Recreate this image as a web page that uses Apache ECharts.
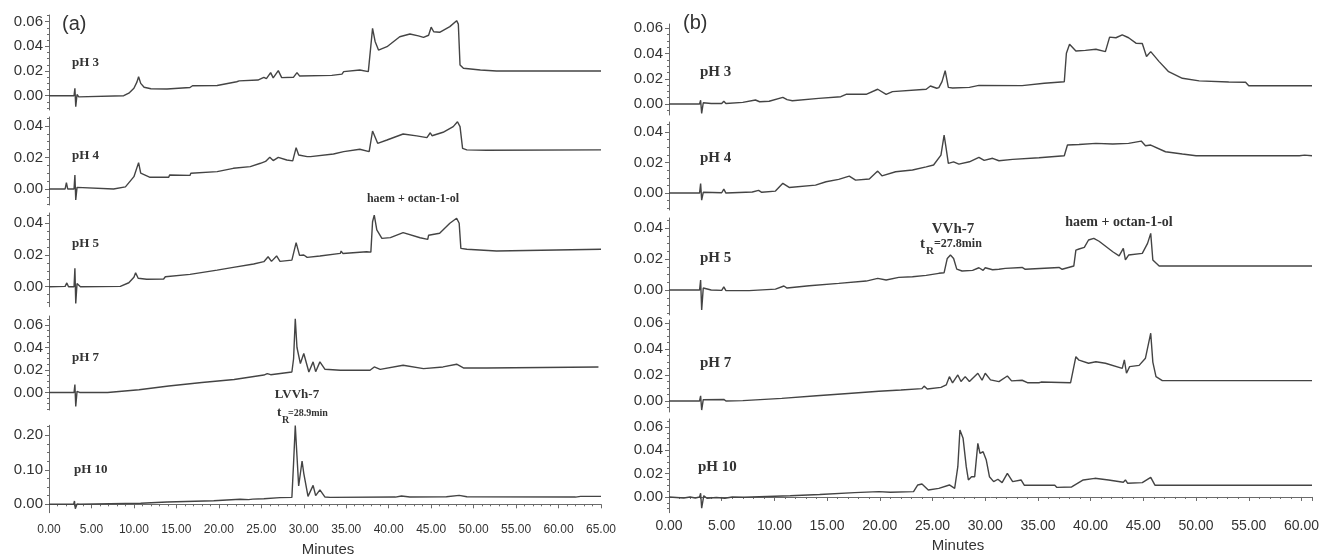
<!DOCTYPE html>
<html><head><meta charset="utf-8">
<script src="https://cdn.jsdelivr.net/npm/echarts@6/dist/echarts.min.js"></script>
<style>html,body{margin:0;padding:0;background:#fff}#c{width:1324px;height:556px}</style>
</head><body><div id="c"></div>
<script>
// ---------- DATA (minutes, absorbance) ----------
const aPH3 = [[0,0],[1.7,0],[1.9,0.0008],[2.1,0],[2.95,0],[3.05,0.006],[3.15,-0.009],[3.3,0.001],[3.5,-0.001],[3.7,0],[8.8,0],[9.4,0.002],[10.0,0.006],[10.35,0.011],[10.55,0.0154],[10.8,0.01],[11.2,0.0068],[12.0,0.0056],[13.9,0.0054],[14.1,0.0064],[16.6,0.0066],[16.9,0.0081],[19.8,0.0083],[20.0,0.0095],[22.1,0.0113],[22.4,0.012],[24.6,0.0127],[25.3,0.0149],[25.6,0.0138],[26.1,0.0187],[26.4,0.0144],[27.0,0.0203],[27.4,0.0146],[28.8,0.015],[29.2,0.0187],[29.5,0.016],[33.3,0.0165],[34.5,0.0175],[34.7,0.0195],[36.6,0.0208],[37.6,0.0195],[37.8,0.021],[38.1,0.0546],[38.4,0.044],[38.8,0.037],[39.8,0.0397],[41.3,0.0478],[42.5,0.050],[43.5,0.0485],[44.1,0.0473],[44.7,0.049],[45.0,0.0555],[45.3,0.0518],[46.0,0.0514],[47.2,0.056],[48.0,0.0608],[48.2,0.058],[48.4,0.0249],[48.8,0.0222],[50.8,0.0208],[52.7,0.02],[65,0.02]];
const aPH4 = [[0,0],[1.9,0],[2.05,0.004],[2.2,0],[2.95,0],[3.05,0.0089],[3.15,-0.007],[3.3,0.001],[3.5,0],[7.6,0],[9.0,0.0013],[10.0,0.0078],[10.55,0.0167],[10.8,0.01],[11.9,0.0074],[14.1,0.0074],[14.2,0.0089],[16.6,0.0086],[16.7,0.01],[19.8,0.011],[21.7,0.0131],[23.7,0.0142],[24.9,0.0163],[25.5,0.0175],[26.0,0.0201],[26.4,0.018],[27.0,0.0201],[28.0,0.0184],[28.7,0.0178],[29.1,0.0262],[29.4,0.0216],[30.4,0.0205],[30.8,0.0205],[33.5,0.0222],[34.7,0.0237],[36.6,0.0252],[37.7,0.0237],[38.1,0.0368],[38.7,0.029],[39.8,0.0311],[41.7,0.0349],[43.3,0.0337],[44.5,0.0326],[44.9,0.0357],[45.1,0.0338],[46.4,0.036],[47.6,0.0396],[48.1,0.0427],[48.4,0.0396],[48.7,0.0258],[49.2,0.0248],[51.5,0.0246],[65,0.0248]];
const aPH5 = [[0,0],[1.9,0.0002],[2.1,0.0024],[2.3,0],[2.95,0],[3.05,0.0116],[3.15,-0.0105],[3.3,0.002],[3.7,0],[8.4,0.0002],[9.4,0.0025],[10.0,0.006],[10.2,0.0088],[10.5,0.0053],[11.5,0.0047],[13.5,0.0049],[13.7,0.0063],[16.6,0.0078],[19.8,0.0105],[21.7,0.0122],[24.1,0.0143],[25.3,0.0158],[25.8,0.0189],[26.2,0.016],[26.8,0.0194],[27.2,0.016],[28.6,0.0168],[29.1,0.0278],[29.5,0.0198],[30.0,0.02],[30.4,0.0185],[31.9,0.0194],[34.3,0.021],[34.4,0.0225],[34.6,0.021],[37.4,0.0221],[37.9,0.0218],[38.1,0.041],[38.3,0.0452],[38.6,0.0358],[39.2,0.0305],[40.2,0.031],[41.7,0.0341],[43.7,0.0309],[44.6,0.0299],[44.7,0.0325],[46.0,0.0337],[47.2,0.04],[48.0,0.0432],[48.3,0.04],[48.5,0.0242],[49.2,0.0236],[52.7,0.0225],[65,0.0236]];
const aPH7 = [[0,0],[2.95,0],[3.05,0.0071],[3.15,-0.0125],[3.3,0.001],[3.6,0],[6.9,0],[10.6,0.0024],[14.1,0.0058],[18.0,0.0088],[21.8,0.0115],[25.3,0.0155],[25.7,0.0168],[26.1,0.0158],[28.6,0.0182],[28.8,0.03],[29.0,0.0655],[29.2,0.04],[29.6,0.0257],[30.0,0.0347],[30.6,0.0182],[31.1,0.0272],[31.4,0.0185],[31.9,0.0272],[32.5,0.0206],[34.3,0.0197],[37.8,0.0197],[38.3,0.0227],[39.0,0.0205],[41.7,0.0242],[44.1,0.0212],[46.4,0.0227],[48.0,0.0251],[48.8,0.0218],[51.5,0.0217],[64.7,0.0227]];
const aPH10 = [[0,0],[2.9,0],[3.0,0.0096],[3.1,-0.0128],[3.3,0.001],[3.6,0],[10.8,0.003],[13.9,0.0067],[19.4,0.0104],[22.5,0.0145],[23.5,0.0135],[23.7,0.018],[24.0,0.015],[25.3,0.0162],[27.2,0.0193],[28.6,0.02],[28.8,0.12],[29.0,0.228],[29.2,0.14],[29.4,0.053],[29.8,0.1255],[30.0,0.09],[30.5,0.023],[31.1,0.055],[31.4,0.025],[31.9,0.042],[32.5,0.021],[33.1,0.02],[40.8,0.021],[41.5,0.024],[42.5,0.021],[46.8,0.022],[48.3,0.026],[49.2,0.022],[62.0,0.021],[62.6,0.023],[65,0.023]];

const bPH3 = [[0,0],[1.9,0],[2.06,0.0013],[2.2,0],[2.9,0],[3.0,0.003],[3.1,-0.0074],[3.25,0.001],[4.0,0.0004],[5.0,0.0004],[5.2,0.0022],[5.4,0.0004],[7.0,0.0013],[8.2,0.0032],[8.6,0.0018],[9.5,0.0022],[10.8,0.0053],[11.2,0.0035],[11.7,0.0026],[14.2,0.0045],[16.3,0.0058],[16.8,0.0077],[18.7,0.0077],[19.8,0.0117],[20.6,0.0077],[21.2,0.0098],[24.4,0.0117],[24.8,0.0143],[25.4,0.0125],[25.6,0.013],[25.9,0.0177],[26.2,0.0264],[26.5,0.0132],[26.9,0.0127],[28.5,0.0132],[29.4,0.0148],[33.5,0.0146],[35.6,0.0164],[37.5,0.0177],[37.7,0.0402],[38.0,0.0474],[38.6,0.042],[39.5,0.0425],[40.5,0.0434],[41.4,0.0415],[41.8,0.053],[42.4,0.0525],[43.0,0.0548],[43.6,0.0525],[44.3,0.0482],[44.9,0.048],[45.3,0.0376],[45.7,0.0415],[46.5,0.0336],[47.4,0.0256],[48.7,0.0204],[50.3,0.0183],[53.1,0.0175],[54.7,0.0172],[55.0,0.0145],[61,0.0145]];
const bPH4 = [[0,0],[1.9,0],[2.06,0.0013],[2.2,0],[2.9,0],[3.0,0.0062],[3.1,-0.0046],[3.25,0.0005],[5.0,0.0002],[5.2,0.0026],[5.4,0],[7.9,0.0007],[8.5,0.0018],[8.8,0.0005],[10.1,0.0013],[10.8,0.0064],[11.4,0.0037],[13.9,0.0052],[14.9,0.0074],[16.1,0.009],[17.1,0.0111],[17.7,0.0085],[19.0,0.0092],[19.8,0.0144],[20.2,0.0113],[21.5,0.014],[23.1,0.0151],[24.4,0.0172],[25.1,0.0184],[25.8,0.0249],[26.1,0.038],[26.3,0.029],[26.5,0.0195],[27.0,0.0205],[27.5,0.019],[28.5,0.0205],[29.4,0.0234],[29.9,0.0214],[30.7,0.0228],[31.3,0.0212],[32.6,0.0221],[35.1,0.0232],[37.5,0.0245],[37.8,0.0315],[38.9,0.0318],[40.5,0.0326],[42.1,0.0322],[43.6,0.0326],[44.8,0.0341],[45.2,0.031],[45.7,0.0315],[47.1,0.0271],[48.7,0.0256],[50.0,0.0245],[59.8,0.0245],[60.3,0.0249],[61,0.0245]];
const bPH5 = [[0,0],[1.9,0],[2.06,0.0006],[2.2,0],[2.9,0],[3.0,0.0065],[3.1,-0.0129],[3.25,0.0013],[4.0,0],[5.0,-0.0002],[5.2,0.0021],[5.4,-0.0004],[7.6,-0.0004],[10.1,0.0006],[10.9,0.0026],[11.2,0.0013],[13.3,0.0028],[16.1,0.0043],[18.7,0.0058],[19.8,0.0075],[20.6,0.0065],[21.8,0.0082],[23.1,0.0086],[24.4,0.0095],[25.6,0.0108],[26.1,0.0112],[26.4,0.0204],[26.7,0.0226],[27.0,0.0204],[27.3,0.0135],[27.8,0.0123],[28.8,0.0127],[29.4,0.0144],[29.8,0.0127],[30.0,0.0144],[30.7,0.0131],[31.3,0.0134],[31.9,0.014],[32.0,0.0151],[33.5,0.0146],[33.8,0.0134],[37.0,0.0146],[37.3,0.0134],[38.4,0.0155],[38.6,0.0258],[38.9,0.0265],[39.4,0.0275],[39.8,0.0323],[40.3,0.0334],[40.8,0.0315],[42.1,0.0247],[42.7,0.0221],[43.1,0.0269],[43.3,0.0194],[43.6,0.0226],[44.9,0.0237],[45.4,0.0301],[45.7,0.0366],[45.9,0.0194],[46.5,0.0155],[61,0.0155]];
const bPH7 = [[0,0],[1.9,0],[2.06,0.001],[2.2,0],[2.9,0],[3.0,0.004],[3.1,-0.007],[3.25,0.001],[5.2,0.0012],[5.4,0],[7.0,0.0003],[10.7,0.002],[14.0,0.004],[17.0,0.0058],[19.9,0.0075],[22.0,0.0085],[24.0,0.0095],[24.2,0.0115],[24.5,0.0092],[25.8,0.0105],[26.3,0.0124],[26.6,0.0188],[26.9,0.014],[27.4,0.0201],[27.7,0.015],[28.1,0.0188],[28.5,0.015],[29.3,0.0214],[29.7,0.016],[30.0,0.0214],[30.5,0.0163],[31.3,0.0149],[32.1,0.0193],[32.5,0.0155],[33.5,0.016],[34.0,0.0141],[35.1,0.0141],[35.3,0.0146],[38.1,0.0141],[38.6,0.0342],[38.9,0.0315],[39.8,0.0291],[40.5,0.0303],[41.4,0.0291],[43.0,0.0252],[43.2,0.0317],[43.4,0.0214],[43.7,0.0265],[44.6,0.0275],[45.2,0.033],[45.7,0.0523],[45.9,0.03],[46.2,0.0188],[46.8,0.0157],[61,0.0157]];
const bPH10 = [[0,0],[1.4,-0.0009],[2.0,0],[2.5,-0.0009],[2.9,0],[3.0,0.0032],[3.1,-0.0096],[3.3,0.0011],[3.6,-0.0011],[4.5,-0.0004],[5.3,-0.0011],[6.0,0],[7.1,-0.0002],[11.5,0.0011],[14.3,0.0021],[17.6,0.0037],[19.9,0.0046],[21.0,0.0041],[23.2,0.0046],[23.6,0.0103],[24.0,0.0111],[24.6,0.006],[25.6,0.0074],[26.6,0.0103],[27.1,0.0074],[27.4,0.026],[27.6,0.0574],[27.9,0.0503],[28.2,0.026],[28.4,0.0146],[28.7,0.0174],[29.0,0.0174],[29.3,0.046],[29.5,0.0375],[29.8,0.0388],[30.1,0.0317],[30.4,0.0174],[30.8,0.0132],[31.2,0.0152],[31.6,0.0123],[32.1,0.0203],[32.6,0.0132],[33.4,0.0146],[33.7,0.0101],[36.6,0.0101],[36.8,0.0082],[38.2,0.0086],[39.3,0.0146],[40.4,0.016],[41.7,0.0146],[43.1,0.0126],[43.3,0.0146],[43.5,0.0118],[44.9,0.0123],[45.7,0.0168],[46.1,0.0101],[61,0.0101]];

const phLabels = ['pH 3','pH 4','pH 5','pH 7','pH 10'];
const ticksA = [[0,0.02,0.04,0.06],[0,0.02,0.04],[0,0.02,0.04],[0,0.02,0.04,0.06],[0,0.1,0.2]];
const ticksB = [[0,0.02,0.04,0.06],[0,0.02,0.04],[0,0.02,0.04],[0,0.02,0.04,0.06],[0,0.02,0.04,0.06]];
const xMaxA = 65, xMaxB = 61;

// ---------- LAYOUT ----------
const layoutA = {left:49, width:552, rows:[
  {top:15, h:95, min:-0.0116, max:0.0654},
  {top:117, h:88, min:-0.0102, max:0.0457},
  {top:213, h:93.7, min:-0.0126, max:0.0465},
  {top:316, h:94, min:-0.0156, max:0.068},
  {top:425.3, h:87.4, min:-0.0243, max:0.229}
]};
const layoutB = {left:669, width:643, rows:[
  {top:24, h:91, min:-0.0087, max:0.0634},
  {top:122, h:88, min:-0.0111, max:0.0466},
  {top:218, h:97, min:-0.0161, max:0.0465},
  {top:320, h:92, min:-0.0085, max:0.0625},
  {top:419, h:93.7, min:-0.0135, max:0.0669}
]};

const AX = '#6a6a6a', TXT = '#333', LINE = '#444';
const grid = [], xAxis = [], yAxis = [], series = [];
function addPanel(layout, traces, ticks, xMax, xLabelSize, xLabelMargin) {
  layout.rows.forEach((r, i) => {
    const gi = grid.length;
    grid.push({left: layout.left, top: r.top, width: layout.width, height: r.h, containLabel:false});
    const bottom = i === layout.rows.length - 1;
    xAxis.push({type:'value', gridIndex:gi, min:0, max:xMax, interval:5, show:bottom,
      axisLine:{show:true, lineStyle:{color:AX, width:1}},
      axisTick:{show:true, length:4, lineStyle:{color:AX}},
      minorTick:{show:true, splitNumber:5, length:2, lineStyle:{color:AX}},
      splitLine:{show:false},
      axisLabel:{color:TXT, fontSize:xLabelSize, fontFamily:'Liberation Sans', margin:xLabelMargin,
        showMaxLabel: xMax % 5 === 0, formatter:v => v.toFixed(2)}});
    const t = ticks[i];
    const step = (t[1] - t[0]) / 4;
    const minor = [];
    for (let k = Math.ceil(r.min / step); k * step <= r.max + 1e-9; k++) minor.push(+(k * step).toFixed(5));
    const yi = yAxis.length;
    yAxis.push({type:'value', gridIndex:gi, min:r.min, max:r.max, position:'left',
      axisLine:{show:true, lineStyle:{color:AX, width:1}},
      axisTick:{show:true, length:4, customValues:t, lineStyle:{color:AX}},
      splitLine:{show:false},
      axisLabel:{show:true, customValues:t, color:TXT, fontSize:15, fontFamily:'Liberation Sans', margin:6,
        formatter:v => v.toFixed(2)}});
    yAxis.push({type:'value', gridIndex:gi, min:r.min, max:r.max, position:'left',
      axisLine:{show:false}, splitLine:{show:false},
      axisTick:{show:true, length:2, customValues:minor, lineStyle:{color:AX}},
      axisLabel:{show:false}});
    series.push({type:'line', xAxisIndex:gi, yAxisIndex:yi, data:traces[i], symbol:'none', showSymbol:false,
      lineStyle:{color:LINE, width:1.4}, silent:true});
  });
}
addPanel(layoutA, [aPH3,aPH4,aPH5,aPH7,aPH10], ticksA, xMaxA, 12, 11);
addPanel(layoutB, [bPH3,bPH4,bPH5,bPH7,bPH10], ticksB, xMaxB, 14, 6);

function txt(text, x, y, font, align) {
  return {type:'text', x:x, y:y, silent:true,
    style:{text:text, font:font, fill:TXT, align:align||'left', verticalAlign:'middle',
      textAlign:align||'left', textVerticalAlign:'middle'}};
}
const serifA = 'bold 13px "Liberation Serif"', serifB = 'bold 15px "Liberation Serif"';
const graphic = [
  txt('(a)', 62, 24, '20px "Liberation Sans"'),
  txt('(b)', 683, 23, '20px "Liberation Sans"'),
  txt('Minutes', 328, 550, '15px "Liberation Sans"', 'center'),
  txt('Minutes', 958, 546, '15px "Liberation Sans"', 'center'),
  txt('haem + octan-1-ol', 413, 199, 'bold 12px "Liberation Serif"', 'center'),
  txt('haem + octan-1-ol', 1119, 222, 'bold 14px "Liberation Serif"', 'center'),
  txt('LVVh-7', 297, 395, 'bold 13px "Liberation Serif"', 'center'),
  txt('t', 277, 413, 'bold 13px "Liberation Serif"'),
  txt('R', 282, 420, 'bold 10px "Liberation Serif"'),
  txt('=28.9min', 288, 413, 'bold 10px "Liberation Serif"'),
  txt('VVh-7', 953, 229, 'bold 15px "Liberation Serif"', 'center'),
  txt('t', 920, 244, 'bold 15px "Liberation Serif"'),
  txt('R', 926, 251, 'bold 11px "Liberation Serif"'),
  txt('=27.8min', 934, 244, 'bold 12px "Liberation Serif"')
];
const phYA = [63, 156, 244, 358, 470], phYB = [72, 158, 258, 363, 467];
phLabels.forEach((l, i) => {
  graphic.push(txt(l, i === 4 ? 74 : 72, phYA[i], serifA));
  graphic.push(txt(l, i === 4 ? 698 : 700, phYB[i], serifB));
});

const chart = echarts.init(document.getElementById('c'), null, {renderer:'canvas'});
chart.setOption({animation:false, backgroundColor:'#fff', grid, xAxis, yAxis, series, graphic});
</script></body></html>
